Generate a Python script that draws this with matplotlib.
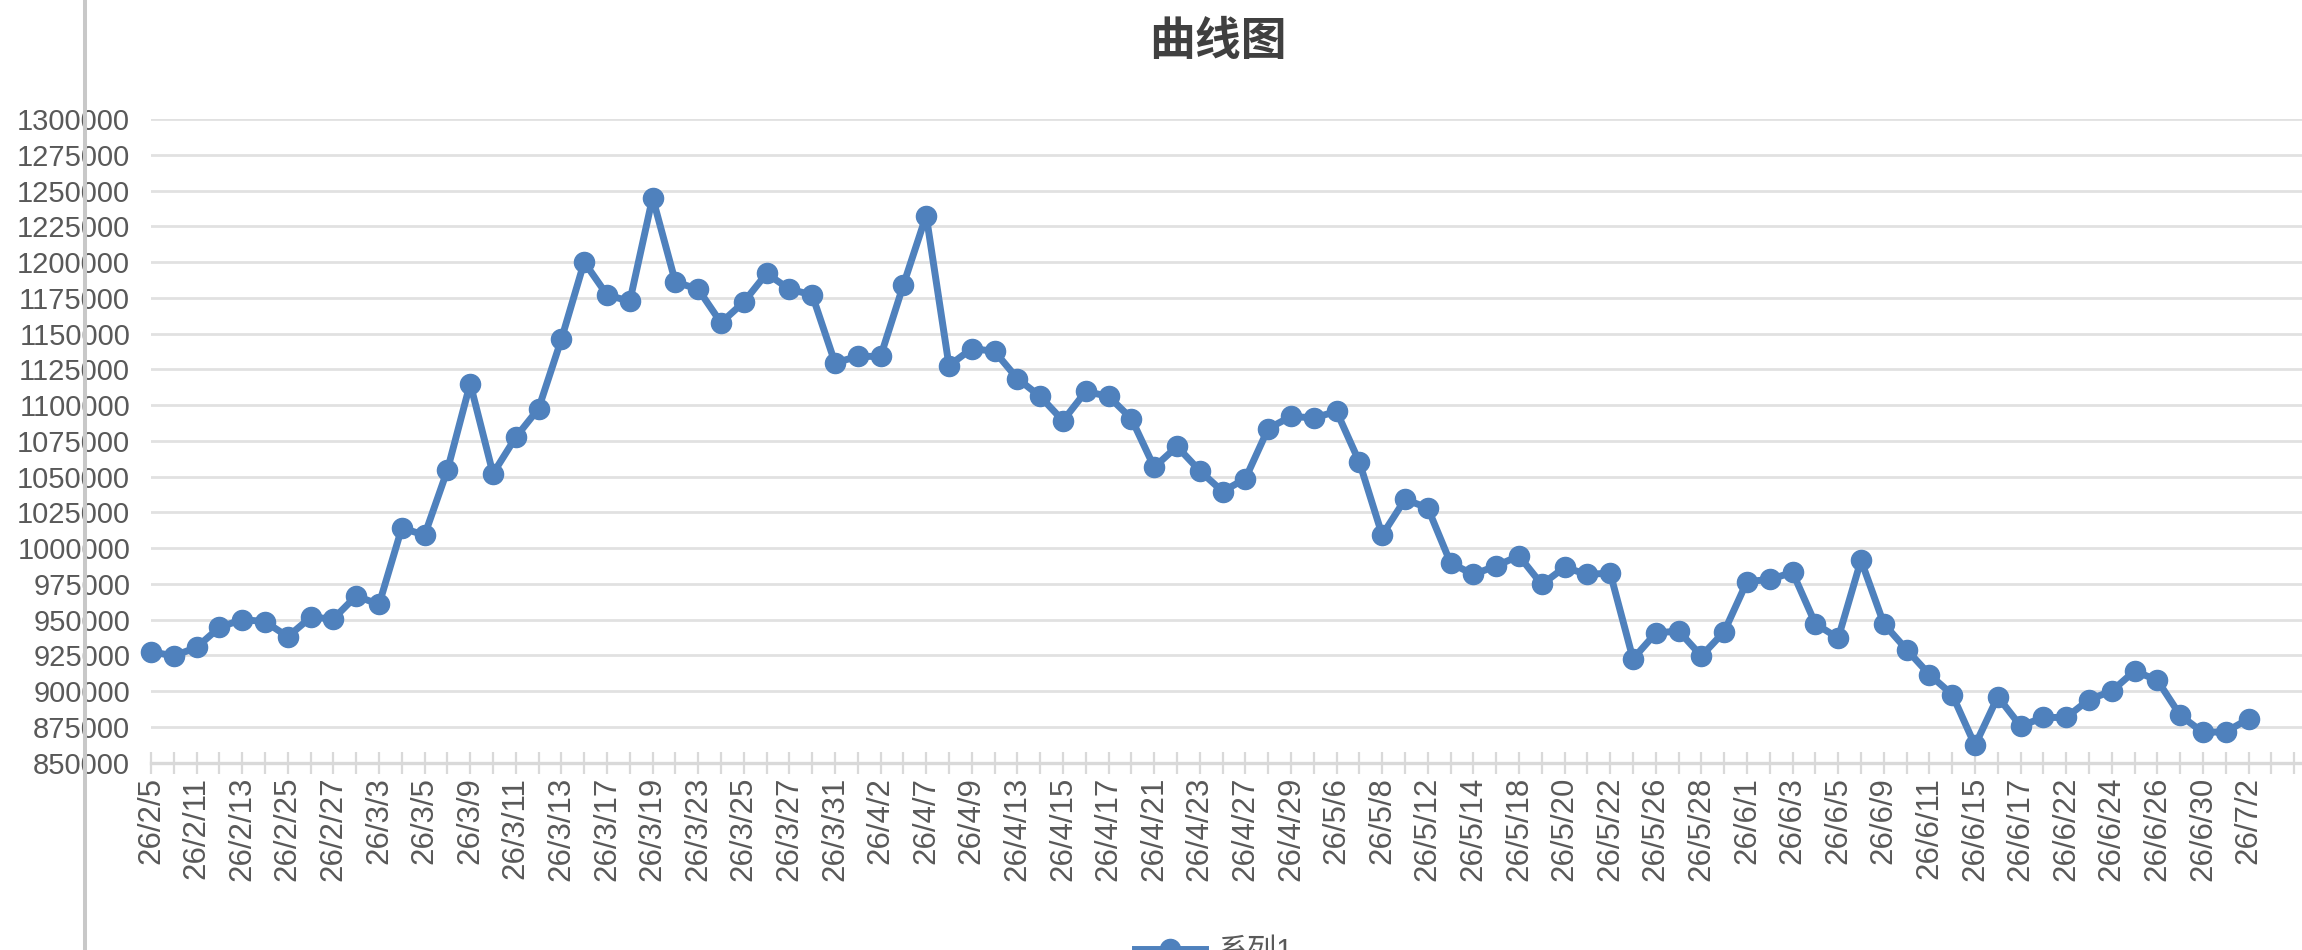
import matplotlib
matplotlib.use("Agg")
import matplotlib.pyplot as plt
from matplotlib.lines import Line2D
import numpy as np

plt.rcParams['font.family'] = ['Liberation Sans', 'Noto Sans CJK SC', 'DejaVu Sans']

title = '曲线图'
series_name = '系列1'

dates = ['26/2/5', '26/2/10', '26/2/11', '26/2/12', '26/2/13', '26/2/24', '26/2/25', '26/2/26', '26/2/27',
         '26/3/2', '26/3/3', '26/3/4', '26/3/5', '26/3/6', '26/3/9', '26/3/10', '26/3/11', '26/3/12',
         '26/3/13', '26/3/16', '26/3/17', '26/3/18', '26/3/19', '26/3/20', '26/3/23', '26/3/24',
         '26/3/25', '26/3/26', '26/3/27', '26/3/30', '26/3/31', '26/4/1', '26/4/2', '26/4/3', '26/4/7',
         '26/4/8', '26/4/9', '26/4/10', '26/4/13', '26/4/14', '26/4/15', '26/4/16', '26/4/17',
         '26/4/20', '26/4/21', '26/4/22', '26/4/23', '26/4/24', '26/4/27', '26/4/28', '26/4/29',
         '26/4/30', '26/5/6', '26/5/7', '26/5/8', '26/5/11', '26/5/12', '26/5/13', '26/5/14',
         '26/5/15', '26/5/18', '26/5/19', '26/5/20', '26/5/21', '26/5/22', '26/5/25', '26/5/26',
         '26/5/27', '26/5/28', '26/5/29', '26/6/1', '26/6/2', '26/6/3', '26/6/4', '26/6/5', '26/6/8',
         '26/6/9', '26/6/10', '26/6/11', '26/6/12', '26/6/15', '26/6/16', '26/6/17', '26/6/18',
         '26/6/22', '26/6/23', '26/6/24', '26/6/25', '26/6/26', '26/6/29', '26/6/30', '26/7/1', '26/7/2']

values = [927500, 924500, 930500, 944500, 950000, 948500, 938000, 951500, 950500,
          966500, 960500, 1014000, 1009000, 1054500, 1115000, 1052000, 1077500, 1097500,
          1146000, 1200000, 1177000, 1172500, 1245000, 1186000, 1181000, 1157500,
          1172000, 1192000, 1181000, 1177000, 1129500, 1134000, 1134000, 1184000, 1232500,
          1127500, 1139500, 1137500, 1118500, 1106000, 1089000, 1109500, 1106000,
          1090500, 1056500, 1071000, 1054000, 1039500, 1048500, 1083500, 1092000,
          1091000, 1095500, 1060000, 1009000, 1034000, 1028000, 989500, 981500,
          987500, 994500, 974500, 986500, 981500, 982500, 922500, 940500,
          942000, 924500, 941500, 976500, 978000, 983000, 947000, 937000, 991500,
          947000, 929000, 911500, 897500, 862000, 896000, 875500, 881500,
          881500, 894000, 900000, 914000, 907500, 883000, 871000, 871500, 880500]

y_ticks = list(range(850000, 1300001, 25000))

blue = '#4F81BD'
grid_c = '#E1E1E1'
axis_c = '#D9D9D9'
text_c = '#595959'

fig = plt.figure(figsize=(23.02, 9.5), dpi=100)
ax = fig.add_axes([151 / 2302, 1 - 762.5 / 950, 1 - 151 / 2302, (762.5 - 119) / 950])

x = np.arange(len(values))
ax.plot(x, values, color=blue, lw=5.0, marker='o', markersize=14.5,
        clip_on=False, zorder=3, label=series_name)

ax.set_ylim(850000, 1300000)
ax.set_xlim(0, (2302 - 151) / 22.8)
ax.set_yticks(y_ticks)
ax.set_yticklabels([str(v) for v in y_ticks], fontsize=21, color=text_c)
ax.tick_params(axis='y', length=0, pad=15)
ax.grid(axis='y', color=grid_c, lw=2)
ax.set_axisbelow(True)

n_ticks = int((2302 - 151) / 22.8) + 1
ax.set_xticks(range(n_ticks))
xlabels = [dates[i] if i < len(dates) and i % 2 == 0 else '' for i in range(n_ticks)]
ax.set_xticklabels(xlabels, rotation=90, fontsize=22.5, color=text_c, va='top', ha='center')
ax.tick_params(axis='x', direction='inout', length=16.5, width=1.6, color=axis_c, pad=2)

for s in ['top', 'right', 'left']:
    ax.spines[s].set_visible(False)
ax.spines['bottom'].set_color(axis_c)
ax.spines['bottom'].set_linewidth(2.4)

fig.text(1218 / 2302, 1 - 42 / 950, title, fontsize=33, fontweight='bold',
         color='#404040', ha='center', va='center', family=['Noto Sans CJK SC'])

leg = fig.legend(loc='center', bbox_to_anchor=(1214 / 2302, -1 / 950), frameon=False,
                 handlelength=2.4, handletextpad=0.5,
                 prop={'family': ['Liberation Sans', 'Noto Sans CJK SC'], 'size': 21})
for t in leg.get_texts():
    t.set_color(text_c)

# stray grey border line on the left
fig.add_artist(Line2D([85 / 2302, 85 / 2302], [0, 1], transform=fig.transFigure,
                      color='#C8C8C8', lw=2.9, zorder=10))

fig.savefig('out.png', dpi=100)
